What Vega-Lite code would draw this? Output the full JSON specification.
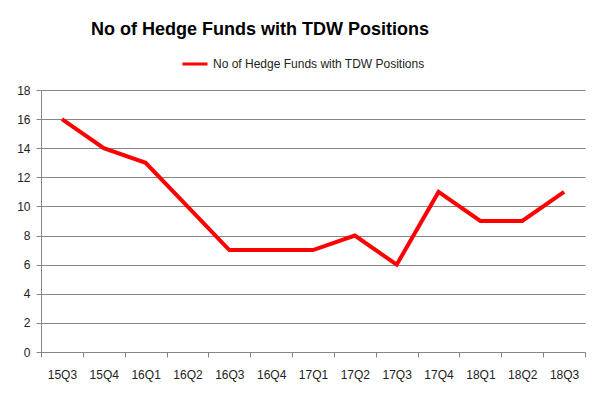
{
  "$schema": "https://vega.github.io/schema/vega-lite/v6.json",
  "width": 544,
  "height": 262,
  "autosize": {"type": "none"},
  "padding": {"left": 41, "top": 90, "right": 17, "bottom": 46},
  "background": "white",
  "title": {
    "text": "No of Hedge Funds with TDW Positions",
    "font": "Liberation Sans",
    "fontSize": 18,
    "fontWeight": "bold",
    "color": "#000000",
    "anchor": "middle",
    "dx": -53,
    "offset": 11
  },
  "config": {
    "view": {"stroke": null},
    "axis": {
      "labelFont": "Liberation Sans",
      "labelFontSize": 12,
      "labelColor": "#222222",
      "domainColor": "#868686",
      "tickColor": "#868686",
      "gridColor": "#868686",
      "tickSize": 5
    }
  },
  "data": {
    "values": [
      {"quarter": "15Q3", "funds": 16, "series": "No of Hedge Funds with TDW Positions"},
      {"quarter": "15Q4", "funds": 14, "series": "No of Hedge Funds with TDW Positions"},
      {"quarter": "16Q1", "funds": 13, "series": "No of Hedge Funds with TDW Positions"},
      {"quarter": "16Q2", "funds": 10, "series": "No of Hedge Funds with TDW Positions"},
      {"quarter": "16Q3", "funds": 7, "series": "No of Hedge Funds with TDW Positions"},
      {"quarter": "16Q4", "funds": 7, "series": "No of Hedge Funds with TDW Positions"},
      {"quarter": "17Q1", "funds": 7, "series": "No of Hedge Funds with TDW Positions"},
      {"quarter": "17Q2", "funds": 8, "series": "No of Hedge Funds with TDW Positions"},
      {"quarter": "17Q3", "funds": 6, "series": "No of Hedge Funds with TDW Positions"},
      {"quarter": "17Q4", "funds": 11, "series": "No of Hedge Funds with TDW Positions"},
      {"quarter": "18Q1", "funds": 9, "series": "No of Hedge Funds with TDW Positions"},
      {"quarter": "18Q2", "funds": 9, "series": "No of Hedge Funds with TDW Positions"},
      {"quarter": "18Q3", "funds": 11, "series": "No of Hedge Funds with TDW Positions"}
    ]
  },
  "mark": {"type": "line", "strokeWidth": 4, "strokeCap": "butt", "strokeJoin": "miter"},
  "encoding": {
    "x": {
      "field": "quarter",
      "type": "ordinal",
      "sort": null,
      "bandPosition": 0.5,
      "scale": {"type": "band", "paddingInner": 0, "paddingOuter": 0},
      "axis": {
        "title": null,
        "labelAngle": 0,
        "tickBand": "extent",
        "labelPadding": 12,
        "grid": false
      }
    },
    "y": {
      "field": "funds",
      "type": "quantitative",
      "scale": {"domain": [0, 18], "nice": false},
      "axis": {
        "title": null,
        "values": [0, 2, 4, 6, 8, 10, 12, 14, 16, 18],
        "grid": true,
        "labelPadding": 6
      }
    },
    "color": {
      "field": "series",
      "type": "nominal",
      "scale": {"range": ["#ff0000"]},
      "legend": {
        "title": null,
        "orient": "none",
        "legendX": 140,
        "legendY": -40,
        "symbolType": "stroke",
        "symbolStrokeWidth": 3,
        "symbolSize": 625,
        "labelOffset": 4,
        "labelLimit": 0,
        "labelFont": "Liberation Sans",
        "labelFontSize": 12,
        "labelColor": "#222222"
      }
    }
  }
}
